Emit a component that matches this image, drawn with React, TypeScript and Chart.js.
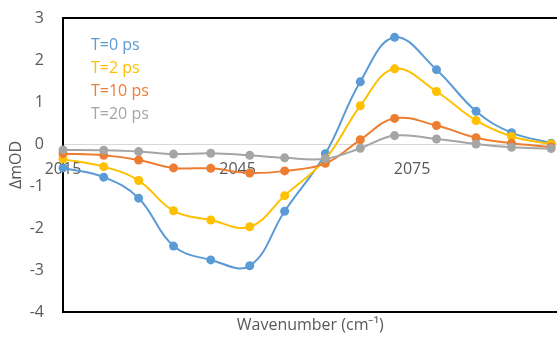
import React, { useEffect, useRef } from 'react';
import { Chart, registerables } from 'chart.js';

Chart.register(...registerables);

// Transient absorption spectra: ΔmOD vs wavenumber at four delay times
const wavenumbers = [2015.0, 2022.0, 2028.0, 2034.0, 2040.4, 2047.1, 2053.1, 2060.1, 2066.1, 2072.0, 2079.2, 2086.0, 2092.1, 2098.9];
const seriesT0 = [-0.57, -0.79, -1.29, -2.43, -2.76, -2.9, -1.6, -0.23, 1.48, 2.54, 1.77, 0.78, 0.27, 0.02];
const seriesT2 = [-0.36, -0.54, -0.87, -1.59, -1.81, -1.97, -1.23, -0.36, 0.91, 1.79, 1.25, 0.56, 0.18, 0.0];
const seriesT10 = [-0.23, -0.27, -0.38, -0.57, -0.58, -0.69, -0.64, -0.46, 0.1, 0.61, 0.44, 0.15, 0.02, -0.07];
const seriesT20 = [-0.14, -0.15, -0.18, -0.24, -0.22, -0.27, -0.33, -0.35, -0.1, 0.2, 0.12, 0.0, -0.08, -0.11];

const seriesLabels = ['T=0 ps', 'T=2 ps', 'T=10 ps', 'T=20 ps'];
const seriesColors = ['#5B9BD5', '#FFC000', '#ED7D31', '#A5A5A5'];
const xTickValues = [2015, 2045, 2075];
const xMin = 2015;
const xMax = 2100;
const yMin = -4;
const yMax = 3;

const TEXT = '#595959';
const FONT = "'Open Sans', sans-serif";

export default function App() {
  const canvasRef = useRef<HTMLCanvasElement | null>(null);

  useEffect(() => {
    const canvas = canvasRef.current;
    if (!canvas) return;

    const allSeries = [seriesT0, seriesT2, seriesT10, seriesT20];
    const datasets = allSeries.map((values, i) => ({
      label: seriesLabels[i],
      data: values.map((v, j) => ({ x: wavenumbers[j], y: v })),
      borderColor: seriesColors[i],
      backgroundColor: seriesColors[i],
      pointBackgroundColor: seriesColors[i],
      pointBorderWidth: 0,
      pointRadius: 4.5,
      borderWidth: 2,
      tension: 0.4,
      clip: false as const,
      order: allSeries.length - i,
      xAxisID: 'x',
      yAxisID: 'y',
    }));

    // keep the plot frame at fixed offsets from the canvas edges
    const noEdgePadding = (s: any) => {
      s.paddingTop = 0;
      s.paddingBottom = 0;
    };

    const chart = new Chart(canvas, {
      type: 'line',
      data: { datasets },
      options: {
        animation: false,
        responsive: false,
        devicePixelRatio: 1,
        font: { family: FONT, size: 16 },
        color: TEXT,
        layout: { padding: { left: 0, right: 2, top: 0, bottom: 0 } },
        plugins: {
          tooltip: { enabled: false },
          legend: {
            position: 'chartArea' as any,
            align: 'start',
            title: { display: true, text: '', font: { size: 1 }, padding: { top: 29, bottom: 0 } },
            labels: {
              boxWidth: 13,
              boxHeight: 0,
              padding: 7,
              font: { family: FONT, size: 16 },
              generateLabels: (c: any) =>
                c.data.datasets.map((ds: any, i: number) => ({
                  text: ds.label,
                  fontColor: ds.borderColor,
                  fillStyle: 'rgba(0,0,0,0)',
                  strokeStyle: 'rgba(0,0,0,0)',
                  lineWidth: 0,
                  hidden: false,
                  datasetIndex: i,
                })),
            },
          },
        },
        scales: {
          x: {
            type: 'linear',
            position: 'bottom',
            min: xMin,
            max: xMax,
            grid: { display: false, drawTicks: false },
            border: { display: true, color: '#000', width: 2 },
            ticks: { display: false },
            title: {
              display: true,
              text: 'Wavenumber (cm⁻¹)',
              color: TEXT,
              font: { family: FONT, size: 16 },
              padding: { top: 0, bottom: 2 },
            },
            afterFit: (s: any) => {
              s.height = 25;
            },
          },
          xTop: {
            type: 'linear',
            axis: 'x',
            position: 'top',
            min: xMin,
            max: xMax,
            grid: { display: false, drawTicks: false },
            border: { display: true, color: '#000', width: 2 },
            ticks: { display: false },
            afterFit: (s: any) => {
              s.height = 18;
            },
          },
          xZero: {
            type: 'linear',
            axis: 'x',
            position: { y: 0 } as any,
            min: xMin,
            max: xMax,
            grid: { display: false, drawTicks: false },
            border: { display: false },
            afterBuildTicks: (s: any) => {
              s.ticks = xTickValues.map((v) => ({ value: v }));
            },
            ticks: {
              color: TEXT,
              padding: 16,
              maxRotation: 0,
              font: { family: FONT, size: 16 },
              callback: (v: any) => String(v),
            },
            afterFit: noEdgePadding,
          },
          y: {
            type: 'linear',
            position: 'left',
            min: yMin,
            max: yMax,
            border: { display: true, color: '#000', width: 2 },
            grid: {
              drawTicks: false,
              lineWidth: 1,
              color: (ctx: any) => (ctx.tick && ctx.tick.value === 0 ? '#D9D9D9' : 'rgba(0,0,0,0)'),
            },
            ticks: {
              stepSize: 1,
              color: TEXT,
              padding: 19,
              font: { family: FONT, size: 16 },
            },
            title: {
              display: true,
              text: 'ΔmOD',
              color: TEXT,
              font: { family: FONT, size: 16 },
              padding: { top: 7, bottom: 0 },
            },
            afterFit: (s: any) => {
              s.width = 63;
              noEdgePadding(s);
            },
          },
        },
      },
    });

    return () => chart.destroy();
  }, []);

  return (
    <div
      style={{
        position: 'absolute',
        left: 0,
        top: 0,
        width: 557,
        height: 337,
        overflow: 'hidden',
        background: '#fff',
      }}
    >
      <canvas ref={canvasRef} width={562} height={337} style={{ display: 'block' }} />
    </div>
  );
}
